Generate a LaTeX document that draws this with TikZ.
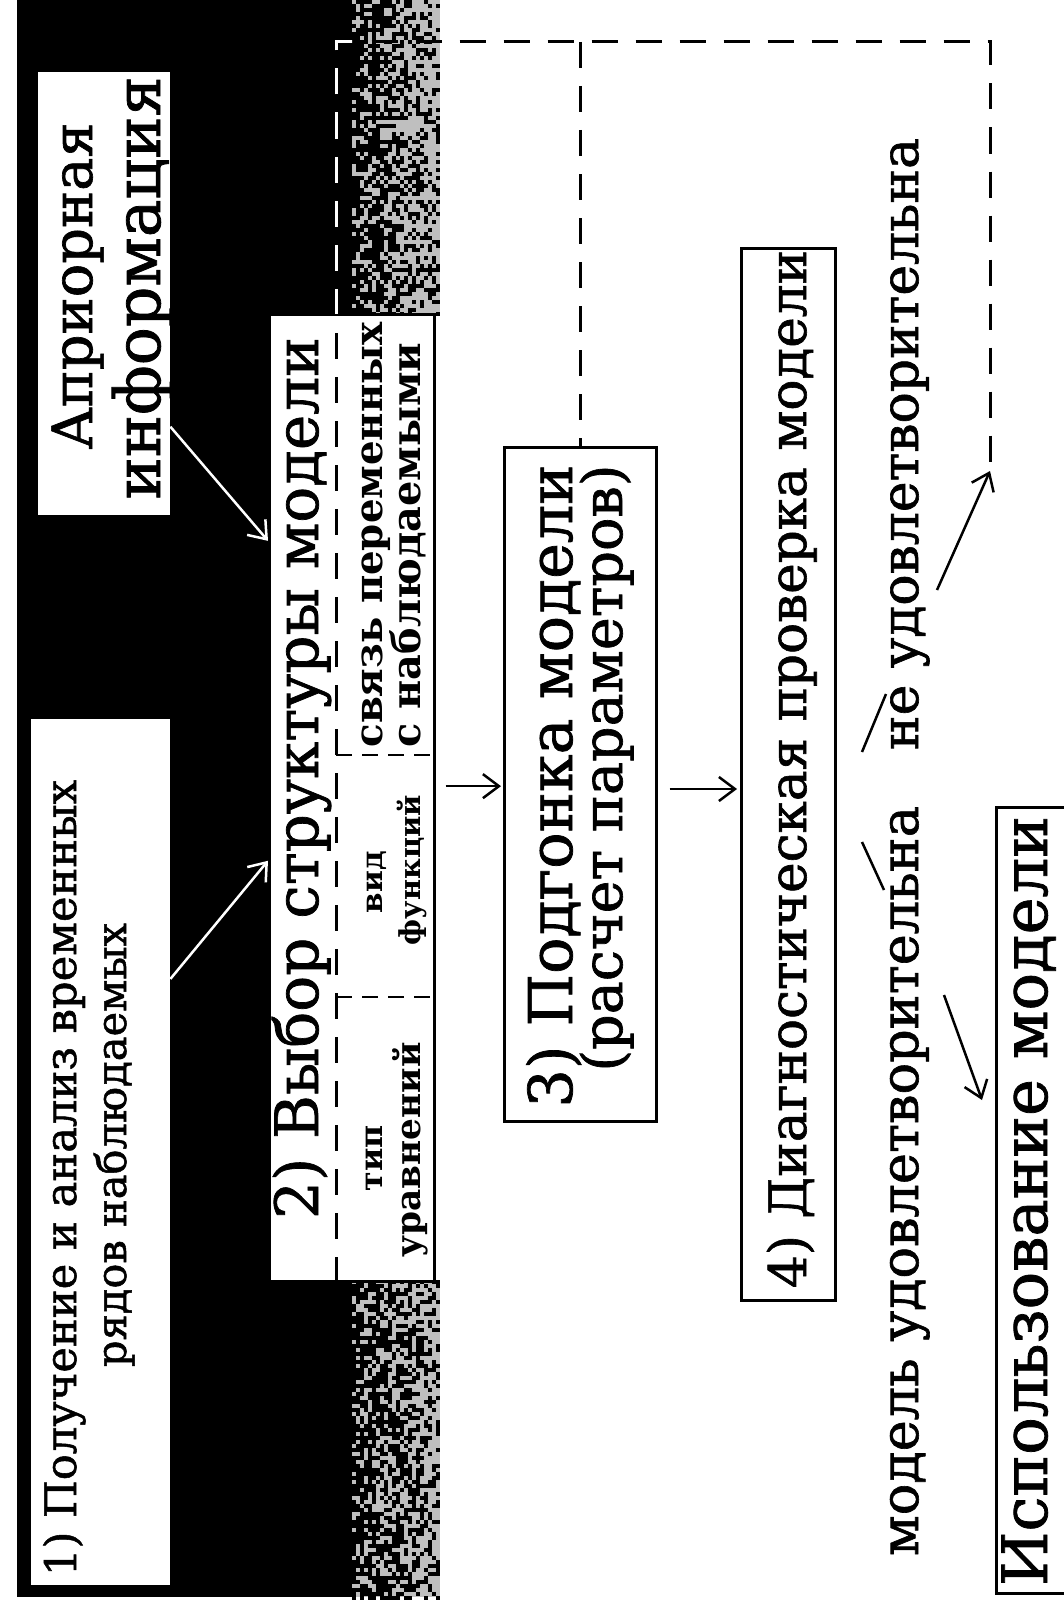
\documentclass[tikz,border=0pt]{standalone}
\usepackage{fontspec}
\usepackage{graphicx}
\newfontfamily\dser{DejaVu Serif}[FakeBold=1.2]
\newfontfamily\dserb{DejaVu Serif Bold}
\usetikzlibrary{arrows.meta,calc}
\newcommand\fitw[2]{\resizebox{#1pt}{!}{#2}}
\begin{document}
\begin{tikzpicture}[x=1pt,y=-1pt,
  blk/.style={fill=white,draw=none,inner sep=0pt,anchor=north west},
  box/.style={fill=white,draw=black,line width=2.5pt,inner sep=0pt,anchor=north west},
  txt/.style={rotate=90,anchor=base,inner sep=0pt,font=\dser\fontsize{40}{40}\selectfont},
  btxt/.style={rotate=90,anchor=base,inner sep=0pt,font=\dserb\fontsize{40}{40}\selectfont},
  arr/.style={line width=2.5pt,-{Straight Barb[length=16pt,width=24pt,line width=2.5pt]}},
  dashline/.style={line width=3pt,dash pattern=on 26pt off 18pt},
  sepline/.style={line width=2.5pt,dash pattern=on 16pt off 10pt},
  plain/.style={line width=2.5pt}
]
\clip (0,0) rectangle (1064,1600);
\fill[white] (0,0) rectangle (1064,1600);
% dark scanned background
\fill[black] (17,0) rectangle (352,1597);
\fill[black!25] (352,0) rectangle (440,313);
\fill[black!25] (352,1280) rectangle (440,1597);
\pgfmathsetseed{7}
\foreach \i in {0,...,21}{
  \foreach \j in {0,...,78}{
    \pgfmathparse{rnd<(0.75-0.45*\i/21)?1:0}
    \ifdim\pgfmathresult pt>0.5pt \fill[black] (352+4*\i,4*\j) rectangle ++(4,4); \fi
  }
}
\foreach \i in {0,...,21}{
  \foreach \j in {0,...,79}{
    \pgfmathparse{rnd<(0.75-0.45*\i/21)?1:0}
    \ifdim\pgfmathresult pt>0.5pt \fill[black] (352+4*\i,1280+4*\j) rectangle ++(4,4); \fi
  }
}

% boxes
\node[blk,minimum width=132pt,minimum height=443pt] (apr) at (38,72) {};
\node[blk,minimum width=139pt,minimum height=866pt] (b1) at (31,719) {};
\node[box,minimum width=165pt,minimum height=967pt] (b2) at (268,313) {};
\node[box,minimum width=152pt,minimum height=674pt] (b3) at (503,446) {};
\node[box,minimum width=94pt,minimum height=1052pt] (b4) at (740,247) {};
\node[box,minimum width=90pt,minimum height=786pt] (b5) at (995,806) {};

% texts
\node[txt] (t1a) at (76,1178) {\fitw{796}{1) Получение и анализ временных}};
\node[txt] (t1b) at (126,1145) {\fitw{444}{рядов наблюдаемых}};
\node[txt] (ta1) at (92,286) {\fitw{327}{Априорная}};
\node[txt] (ta2) at (160,288) {\fitw{423}{информация}};
\node[txt] (t2) at (318,778) {\fitw{882}{2) Выбор структуры модели}};
\node[btxt] (t2a1) at (382,535) {\fitw{425}{связь переменных}};
\node[btxt] (t2a2) at (420,545) {\fitw{405}{с наблюдаемыми}};
\node[btxt] (t2b1) at (382,882) {\fitw{62}{вид}};
\node[btxt] (t2b2) at (420,870) {\fitw{150}{функций}};
\node[btxt] (t2c1) at (382,1158) {\fitw{66}{тип}};
\node[btxt] (t2c2) at (420,1150) {\fitw{215}{уравнений}};
\node[txt] (t3a) at (572,786) {\fitw{643}{3) Подгонка модели}};
\node[txt] (t3b) at (622,768) {\fitw{607}{(расчет параметров)}};
\node[txt] (t4) at (806,769) {\fitw{1038}{4) Диагностическая проверка модели}};
\node[txt] (lok) at (918,1181) {\fitw{750}{модель удовлетворительна}};
\node[txt] (lno) at (918,444) {\fitw{612}{не удовлетворительна}};
\node[txt] (t5) at (1047,1201) {\fitw{770}{Использование модели}};

% internal dashed structure of box 2
\coordinate (d0) at ($(b2.south west)+(68,0)$);
\coordinate (dtl) at (336,42);
\coordinate (dm) at (580,42);
\coordinate (dtr) at (990,42);
\coordinate (dc) at (990,471);
\draw[sepline] (336,755) -- (433,755);
\draw[sepline] (336,997) -- (433,997);

% feedback loop (dashed)
\draw[dashline] (d0) -- (dtl) -- (dtr) -- (dc);
\draw[dashline] (dm) -- (dm |- b3.north);
\begin{scope}
  \clip (17,0) rectangle (352,313);
  \draw[dashline,white] (d0) -- (dtl) -- (dtr) -- (dc);
\end{scope}

% arrows into box 2 (white on black)
\draw[arr,white] ($(apr.north east)!0.8!(apr.south east)$) -- ($(b2.north west)!0.235!(b2.south west)$);
\draw[arr,white] ($(b1.north east)!0.3!(b1.south east)$) -- ($(b2.north west)!0.565!(b2.south west)$);

% main flow
\draw[arr,shorten <=10pt,shorten >=2pt] ($(b2.north east)!0.488!(b2.south east)$) coordinate (q1) -- (q1 -| b3.west);
\draw[arr,shorten <=12pt,shorten >=3pt] ($(b3.north east)!0.507!(b3.south east)$) coordinate (q2) -- (q2 -| b4.west);

% decision lines
\coordinate (s1a) at (862,752); \coordinate (s1b) at (886,694);
\coordinate (s2a) at (862,842); \coordinate (s2b) at (884,890);
\draw[plain] (s1a) -- (s1b);
\draw[plain] (s2a) -- (s2b);
\coordinate (okst) at (944,995);
\coordinate (oken) at (982,1100);
\coordinate (nost) at (937,590);
\draw[arr] (okst) -- (oken);
\draw[arr] (nost) -- (dc);
\end{tikzpicture}
\end{document}
